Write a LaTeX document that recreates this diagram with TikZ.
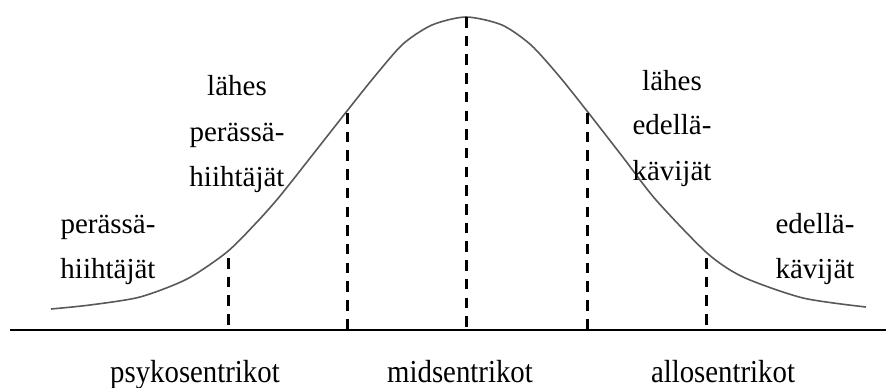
\documentclass[tikz,border=0pt]{standalone}
\usepackage{fontspec}
\setmainfont{Liberation Serif}
\newfontfamily\condfont[FakeStretch=0.9]{Liberation Serif}
\begin{document}
\begin{tikzpicture}[x=1pt,y=-1pt,
  lbl/.style={font=\fontsize{29}{35}\selectfont, anchor=base, inner sep=0pt},
  blbl/.style={font=\condfont\fontsize{32}{38}\selectfont, anchor=base, inner sep=0pt},
  curve/.style={draw=black!65, line width=1.6pt, line join=round},
  axis/.style={draw=black, line width=2.2pt},
  divider/.style={draw=black, line width=3pt, dash pattern=on 10.5pt off 8.2pt}]
\useasboundingbox (0,0) rectangle (886,388);
% axis
\coordinate (axl) at (10,330);
\coordinate (axr) at (886,330);
\draw[axis] (axl) -- (axr);
% curve
\draw[curve] plot[smooth, tension=0.45] coordinates {
  (51,309) (90,305) (140,297) (187,279) (227,252) (257,222) (280,196)
  (314,153) (347,111) (375,76) (403,44) (432,25) (466,17) (502,25) (531,45)
  (559,76) (587,111) (622,156) (656,200) (707,253) (743,277) (803,298) (866,307)};
% dividers
\coordinate (d1t) at (228,258); \coordinate (d1b) at (228,330);
\coordinate (d2t) at (347,113); \coordinate (d2b) at (347,330);
\coordinate (d3t) at (466.5,17); \coordinate (d3b) at (466.5,330);
\coordinate (d4t) at (587,113); \coordinate (d4b) at (587,330);
\coordinate (d5t) at (706,258); \coordinate (d5b) at (706,330);
\draw[divider] (d1t) -- (d1b);
\draw[divider] (d2t) -- (d2b);
\draw[divider] (d3t) -- (d3b);
\draw[divider] (d4t) -- (d4b);
\draw[divider] (d5t) -- (d5b);
% labels
\node[lbl] (ph1) at (108,233) {perässä-};
\node[lbl] (ph2) at (108,278) {hiihtäjät};
\node[lbl] (lp1) at (237,95) {lähes};
\node[lbl] (lp2) at (237,141) {perässä-};
\node[lbl] (lp3) at (237,186) {hiihtäjät};
\node[lbl] (le1) at (672,90) {lähes};
\node[lbl] (le2) at (672,134) {edellä-};
\node[lbl] (le3) at (672,180) {kävijät};
\node[lbl] (ek1) at (815,233) {edellä-};
\node[lbl] (ek2) at (815,278) {kävijät};
\node[blbl] (psy) at (195,382) {psykosentrikot};
\node[blbl] (mid) at (460,382) {midsentrikot};
\node[blbl] (allo) at (723,382) {allosentrikot};
\end{tikzpicture}
\end{document}
